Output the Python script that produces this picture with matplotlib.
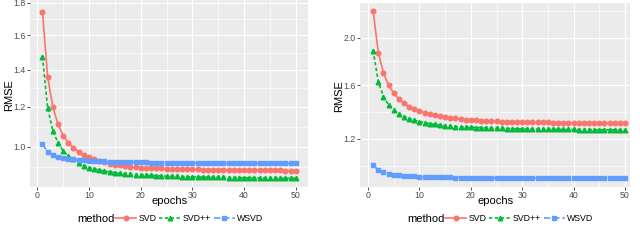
import numpy as np
import matplotlib
matplotlib.use("Agg")
import matplotlib.pyplot as plt
from matplotlib.lines import Line2D

plt.rcParams['font.family'] = ['Liberation Sans', 'DejaVu Sans']

epochs = list(range(1, 51))
methods = ["SVD", "SVD++", "WSVD"]

left_svd = [1.745, 1.360, 1.200, 1.111, 1.055, 1.021, 0.996, 0.977, 0.963, 0.951,
            0.942, 0.934, 0.928, 0.923, 0.918, 0.915, 0.912, 0.909, 0.907, 0.905,
            0.904, 0.903, 0.902, 0.901, 0.900, 0.899, 0.899, 0.898, 0.898, 0.897,
            0.897, 0.896, 0.896, 0.895, 0.895, 0.895, 0.894, 0.894, 0.894, 0.893,
            0.893, 0.893, 0.893, 0.892, 0.892, 0.892, 0.892, 0.891, 0.891, 0.891]
left_svdpp = [1.474, 1.195, 1.077, 1.021, 0.981, 0.958, 0.942, 0.927, 0.914, 0.905,
              0.899, 0.894, 0.889, 0.885, 0.882, 0.879, 0.877, 0.875, 0.873, 0.872,
              0.871, 0.870, 0.869, 0.867, 0.866, 0.866, 0.865, 0.864, 0.864, 0.863,
              0.863, 0.862, 0.862, 0.861, 0.861, 0.861, 0.860, 0.860, 0.860, 0.859,
              0.859, 0.859, 0.858, 0.858, 0.858, 0.858, 0.857, 0.857, 0.857, 0.857]
left_wsvd = [1.013, 0.978, 0.963, 0.955, 0.950, 0.946, 0.942, 0.939, 0.937, 0.936,
             0.935, 0.934, 0.933, 0.932, 0.931, 0.930, 0.930, 0.929, 0.929, 0.928,
             0.928, 0.927, 0.927, 0.927, 0.926, 0.926, 0.926, 0.926, 0.925, 0.925,
             0.925, 0.925, 0.925, 0.925, 0.924, 0.924, 0.924, 0.924, 0.924, 0.924,
             0.924, 0.924, 0.924, 0.924, 0.924, 0.924, 0.924, 0.924, 0.924, 0.924]

right_svd = [2.242, 1.869, 1.698, 1.599, 1.536, 1.492, 1.459, 1.433, 1.414, 1.399,
             1.387, 1.377, 1.368, 1.361, 1.355, 1.350, 1.345, 1.341, 1.337, 1.334,
             1.332, 1.330, 1.328, 1.326, 1.325, 1.323, 1.322, 1.321, 1.320, 1.319,
             1.318, 1.317, 1.317, 1.316, 1.316, 1.315, 1.315, 1.314, 1.314, 1.314,
             1.313, 1.313, 1.313, 1.312, 1.312, 1.312, 1.312, 1.311, 1.311, 1.311]
right_svdpp = [1.886, 1.627, 1.509, 1.446, 1.408, 1.381, 1.359, 1.344, 1.332, 1.322,
               1.314, 1.308, 1.302, 1.297, 1.293, 1.290, 1.287, 1.285, 1.283, 1.282,
               1.280, 1.279, 1.277, 1.276, 1.275, 1.274, 1.273, 1.272, 1.271, 1.270,
               1.270, 1.269, 1.269, 1.268, 1.268, 1.267, 1.267, 1.266, 1.266, 1.266,
               1.265, 1.265, 1.265, 1.264, 1.264, 1.264, 1.264, 1.263, 1.263, 1.263]
right_wsvd = [1.027, 0.996, 0.981, 0.973, 0.966, 0.962, 0.960, 0.958, 0.956, 0.954,
              0.953, 0.952, 0.951, 0.951, 0.950, 0.950, 0.949, 0.949, 0.948, 0.948,
              0.948, 0.947, 0.947, 0.947, 0.947, 0.946, 0.946, 0.946, 0.946, 0.946,
              0.946, 0.945, 0.945, 0.945, 0.945, 0.945, 0.945, 0.945, 0.945, 0.944,
              0.944, 0.944, 0.944, 0.944, 0.944, 0.944, 0.944, 0.944, 0.944, 0.944]

left_yticks = [1.0, 1.2, 1.4, 1.6, 1.8]
right_yticks = [1.2, 1.6, 2.0]
xticks = [0, 10, 20, 30, 40, 50]

colors = {"SVD": "#F8766D", "SVD++": "#00BA38", "WSVD": "#619CFF"}
markers = {"SVD": "o", "SVD++": "^", "WSVD": "s"}
dashes = {"SVD": None, "SVD++": (2.0, 1.5), "WSVD": (3.8, 1.7)}

W, H = 640, 247
fig = plt.figure(figsize=(W / 100, H / 100), dpi=100)


def px_axes(l, r, t, b):
    return fig.add_axes([l / W, 1 - b / H, (r - l) / W, (b - t) / H])


def minor_sqrt(ticks, lo, hi):
    b = np.sqrt(np.array(ticks))
    bd = b[1] - b[0]
    ext = [b[0] - bd] + list(b) + [b[-1] + bd]
    mids = [(ext[i] + ext[i + 1]) / 2 for i in range(len(ext) - 1)]
    return [m ** 2 for m in mids if lo <= m ** 2 <= hi]


def draw(ax, series, yticks, ylim, xlim, l, r, t, b, ylab_x):
    ax.set_facecolor("#EBEBEB")
    ax.set_yscale('function', functions=(np.sqrt, np.square))
    ax.set_ylim(*ylim)
    ax.set_xlim(*xlim)
    ax.set_yticks(yticks)
    ax.set_yticklabels([f"{v:.1f}" for v in yticks])
    ax.set_yticks(minor_sqrt(yticks, *ylim), minor=True)
    ax.set_xticks(xticks)
    ax.set_xticks([5, 15, 25, 35, 45], minor=True)
    ax.grid(which="major", color="white", lw=0.9)
    ax.grid(which="minor", color="white", lw=0.45)
    ax.set_axisbelow(True)
    for s in ax.spines.values():
        s.set_visible(False)
    ax.tick_params(which="major", length=2, width=0.6, color="#333333",
                   labelsize=6.3, labelcolor="#4D4D4D", pad=1.2)
    ax.tick_params(which="minor", length=0)
    for name, vals in zip(methods, series):
        ln, = ax.plot(epochs, vals, color=colors[name], lw=1.2,
                      marker=markers[name], ms=3.3, mec=colors[name])
        if dashes[name]:
            ln.set_dashes(dashes[name])
    ax.set_xlabel("epochs", fontsize=8, va="top")
    ax.xaxis.set_label_coords(0.5, -(196.0 - b) / (b - t))
    ax.set_ylabel("RMSE", fontsize=8, va="center")
    ax.yaxis.set_label_coords((ylab_x - l) / (r - l), 0.49)


L = (29.8, 308.4, 0.3, 186.7)
R = (360.3, 630.0, 2.7, 186.7)
axL = px_axes(*L)
draw(axL, [left_svd, left_svdpp, left_wsvd], left_yticks, (0.8205, 1.817), (-1.45, 52.45), *L, 9.5)
axR = px_axes(*R)
draw(axR, [right_svd, right_svdpp, right_wsvd], right_yticks, (0.8938, 2.3214), (-1.5, 50.97), *R, 339.5)

for off in (0, 330):
    handles = []
    for name in methods:
        h = Line2D([0], [0], color=colors[name], lw=1.2, marker=markers[name], ms=3.3)
        if dashes[name]:
            h.set_dashes(dashes[name])
        handles.append(h)
    fig.text((77.5 + off) / W, 1 - 218.5 / H, "method", fontsize=8, va="center", ha="left")
    fig.legend(handles, methods, loc="center left",
               bbox_to_anchor=((115 + off) / W, 1 - 218.5 / H),
               ncol=3, frameon=False, fontsize=6.3, handlelength=2.4,
               handletextpad=0.3, columnspacing=0.3, borderpad=0, borderaxespad=0)

fig.savefig("out.png", dpi=100)
